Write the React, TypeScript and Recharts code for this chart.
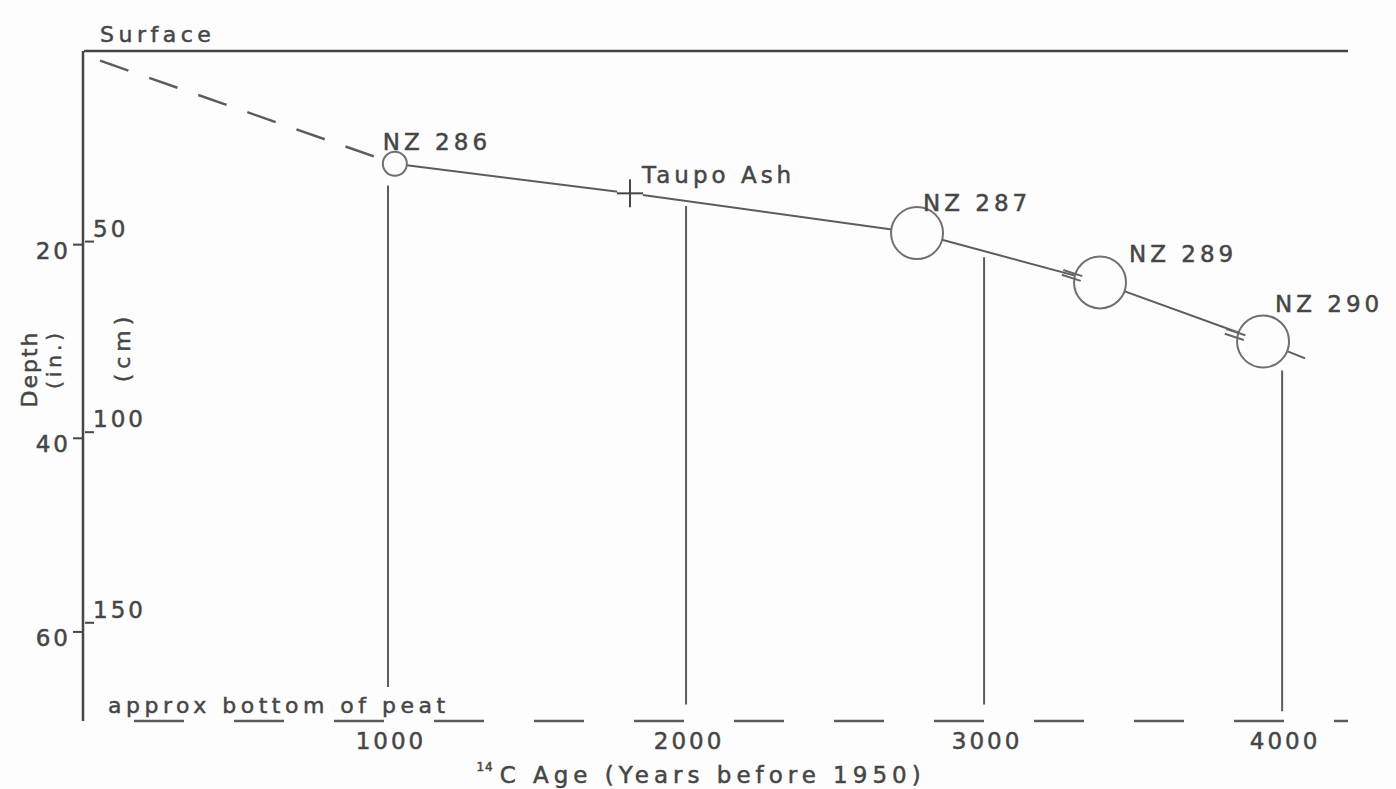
import React from 'react';
import { ComposedChart, Line, Scatter, XAxis, YAxis, ReferenceLine } from 'recharts';

// radiocarbon samples (age in years BP, depth in inches)
const sampleLabels = ['NZ 286', 'NZ 287', 'NZ 289', 'NZ 290'];
const sampleAges = [1023, 2775, 3389, 3936];
const sampleDepths = [11.65, 18.8, 23.9, 30.0];

const ashLabels = ['Taupo Ash'];
const ashAges = [1812];
const ashDepths = [14.7];

// accumulation line through the dated levels
const trendAges = [1023, 1812, 2775, 3389, 3936, 4077];
const trendDepths = [11.65, 14.7, 18.8, 23.9, 30.0, 31.75];

// extrapolated part up to the surface
const extrapAges = [34, 1023];
const extrapDepths = [1.0, 11.65];

// vertical columns below the line
const columnAges = [1000, 2000, 3000, 4000];
const columnTops = [13.9, 16.0, 21.3, 33.0];
const columnBottoms = [65.7, 67.5, 67.5, 68.2];

const ageTicks = [1000, 2000, 3000, 4000];
const inchTicks = [20, 40, 60];
const cmTicks = [50, 100, 150];

const surfaceDepth = 0;
const peatBottomDepth = 69.2;
const CM_PER_INCH = 2.54;

const INK = '#464646';
const LINE = '#5c5c5c';
const FONT = '"DejaVu Sans", Verdana, sans-serif';

const sampleData = sampleLabels.map((label, i) => ({ label, age: sampleAges[i], depth: sampleDepths[i] }));
const ashData = ashLabels.map((label, i) => ({ label, age: ashAges[i], depth: ashDepths[i] }));
const trendData = trendAges.map((age, i) => ({ age, depth: trendDepths[i] }));
const extrapData = extrapAges.map((age, i) => ({ age, depth: extrapDepths[i] }));

// marker look per sample
const radius: Record<string, number> = { 'NZ 286': 12 };
const labelPos: Record<string, [number, number]> = {
  'NZ 286': [-12, -14],
  'NZ 287': [6, -22],
  'NZ 289': [29, -20],
  'NZ 290': [12, -29],
  'Taupo Ash': [12, -10],
};
const marked = ['NZ 289', 'NZ 290'];

const textStyle = {
  fontFamily: FONT,
  fill: INK,
  stroke: INK,
  strokeWidth: 0.5,
  fontSize: 23,
  letterSpacing: 4,
};

function SampleShape(props: any) {
  const { cx, cy, payload } = props;
  const r = radius[payload.label] ?? 26;
  const [dx, dy] = labelPos[payload.label] ?? [8, -20];
  const ux = 0.951, uy = 0.309;
  const nx = -0.309, ny = 0.951;
  const mx = cx - 28, my = cy - 7;
  return (
    <g>
      <circle cx={cx} cy={cy} r={r} fill="#fdfdfd" stroke="#707070" strokeWidth={2} />
      {marked.includes(payload.label) &&
        [-2.5, 2.5].map((o) => (
          <line
            key={o}
            x1={mx + nx * o - ux * 10}
            y1={my + ny * o - uy * 10}
            x2={mx + nx * o + ux * 10}
            y2={my + ny * o + uy * 10}
            stroke="#666"
            strokeWidth={2}
          />
        ))}
      <text x={cx + dx} y={cy + dy} {...textStyle}>
        {payload.label}
      </text>
    </g>
  );
}

function AshShape(props: any) {
  const { cx, cy, payload } = props;
  const [dx, dy] = labelPos[payload.label] ?? [12, -10];
  return (
    <g>
      <circle cx={cx} cy={cy} r={13} fill="#fdfdfd" />
      <line x1={cx - 13} y1={cy} x2={cx + 13} y2={cy} stroke={INK} strokeWidth={2} />
      <line x1={cx} y1={cy - 14} x2={cx} y2={cy + 14} stroke={INK} strokeWidth={2} />
      <text x={cx + dx} y={cy + dy} {...textStyle}>
        {payload.label}
      </text>
    </g>
  );
}

function AgeTick(props: any) {
  const { x, y, payload } = props;
  return (
    <text x={x + 3} y={y + 20} textAnchor="middle" dominantBaseline="central" {...textStyle} letterSpacing={3}>
      {payload.value}
    </text>
  );
}

function InchTick(props: any) {
  const { x, y, payload } = props;
  return (
    <g>
      <line x1={x - 10} y1={y} x2={x + 1} y2={y} stroke={INK} strokeWidth={2} />
      <text x={x - 12} y={y + 6} textAnchor="end" dominantBaseline="central" {...textStyle} letterSpacing={3}>
        {payload.value}
      </text>
    </g>
  );
}

function CmTick(props: any) {
  const { x, y, payload } = props;
  return (
    <g>
      <line x1={x + 1} y1={y} x2={x + 10} y2={y} stroke={INK} strokeWidth={2} />
      <text x={x + 9} y={y - 5} textAnchor="start" {...textStyle} letterSpacing={3}>
        {payload.value}
      </text>
    </g>
  );
}

function depthLabel(props: any) {
  const { x, y, width, height } = props.viewBox;
  const ax = x + width;
  const cy = y + height / 2;
  return (
    <g>
      <text transform={`translate(${ax - 54}, ${cy - 17}) rotate(-90)`} textAnchor="middle" dominantBaseline="central" {...textStyle} fontSize={22} letterSpacing={2}>
        Depth
      </text>
      <text transform={`translate(${ax - 29}, ${cy - 27}) rotate(-90)`} textAnchor="middle" dominantBaseline="central" {...textStyle} fontSize={20} letterSpacing={4}>
        (in.)
      </text>
    </g>
  );
}

function cmLabel(props: any) {
  const { x, y, width, height } = props.viewBox;
  const ax = x + width + 1;
  const cy = y + height / 2;
  return (
    <text transform={`translate(${ax + 37}, ${cy - 39}) rotate(-90)`} textAnchor="middle" dominantBaseline="central" {...textStyle} fontSize={22} letterSpacing={5}>
      (cm)
    </text>
  );
}

function ageTitle(props: any) {
  const { x, y, width } = props.viewBox;
  return (
    <text x={x + width / 2 - 15} y={y + 62} textAnchor="middle" {...textStyle} letterSpacing={5}>
      <tspan fontSize={12} letterSpacing={1} dy={-12}>14</tspan>
      <tspan dx={6} dy={12}>C Age (Years before 1950)</tspan>
    </text>
  );
}

function surfaceLabel(props: any) {
  const { x, y } = props.viewBox;
  return (
    <text x={x + 16} y={y - 9} {...textStyle} fontSize={22} letterSpacing={4.5}>
      Surface
    </text>
  );
}

function peatLabel(props: any) {
  const { x, y } = props.viewBox;
  return (
    <text x={x + 24} y={y - 8} {...textStyle} fontSize={22} letterSpacing={4.5}>
      approx bottom of peat
    </text>
  );
}

export default function App() {
  return (
    <div style={{ position: 'absolute', left: 0, top: 0, width: 1396, height: 789, background: '#fdfdfd' }}>
      <ComposedChart width={1396} height={789} margin={{ top: 51, right: 48, bottom: 67, left: 82 }}>
        <XAxis
          type="number"
          dataKey="age"
          domain={[-20, 4221]}
          ticks={ageTicks}
          interval={0}
          height={1}
          axisLine={false}
          tickLine={false}
          tickSize={0}
          tickMargin={0}
          tick={AgeTick}
          label={ageTitle}
        />
        <YAxis
          yAxisId="in"
          type="number"
          dataKey="depth"
          reversed
          domain={[surfaceDepth, peatBottomDepth]}
          ticks={inchTicks}
          interval={0}
          width={1}
          axisLine={{ stroke: INK, strokeWidth: 2.5 }}
          tickLine={false}
          tickSize={0}
          tickMargin={0}
          tick={InchTick}
          label={depthLabel}
        />
        <YAxis
          yAxisId="cm"
          type="number"
          reversed
          domain={[surfaceDepth * CM_PER_INCH, peatBottomDepth * CM_PER_INCH]}
          allowDataOverflow
          ticks={cmTicks}
          interval={0}
          width={1}
          axisLine={false}
          tickLine={false}
          tickSize={0}
          tickMargin={0}
          tick={CmTick}
          label={cmLabel}
        />

        <ReferenceLine yAxisId="in" y={surfaceDepth} stroke={INK} strokeWidth={2.5} label={surfaceLabel} />
        <ReferenceLine
          yAxisId="in"
          y={peatBottomDepth}
          stroke={LINE}
          strokeWidth={2.5}
          strokeDasharray="50 50"
          strokeDashoffset={50}
          label={peatLabel}
        />
        {columnAges.map((age, i) => (
          <ReferenceLine
            key={age}
            yAxisId="in"
            segment={[
              { x: age, y: columnTops[i] },
              { x: age, y: columnBottoms[i] },
            ]}
            stroke={LINE}
            strokeWidth={2}
          />
        ))}

        <Line
          yAxisId="in"
          data={extrapData}
          dataKey="depth"
          type="linear"
          stroke={LINE}
          strokeWidth={2.5}
          strokeDasharray="30 22"
          dot={false}
          activeDot={false}
          isAnimationActive={false}
        />
        <Line
          yAxisId="in"
          data={trendData}
          dataKey="depth"
          type="linear"
          stroke={LINE}
          strokeWidth={2}
          dot={false}
          activeDot={false}
          isAnimationActive={false}
        />
        <Scatter yAxisId="in" data={ashData} shape={AshShape} isAnimationActive={false} />
        <Scatter yAxisId="in" data={sampleData} shape={SampleShape} isAnimationActive={false} />
      </ComposedChart>
    </div>
  );
}
